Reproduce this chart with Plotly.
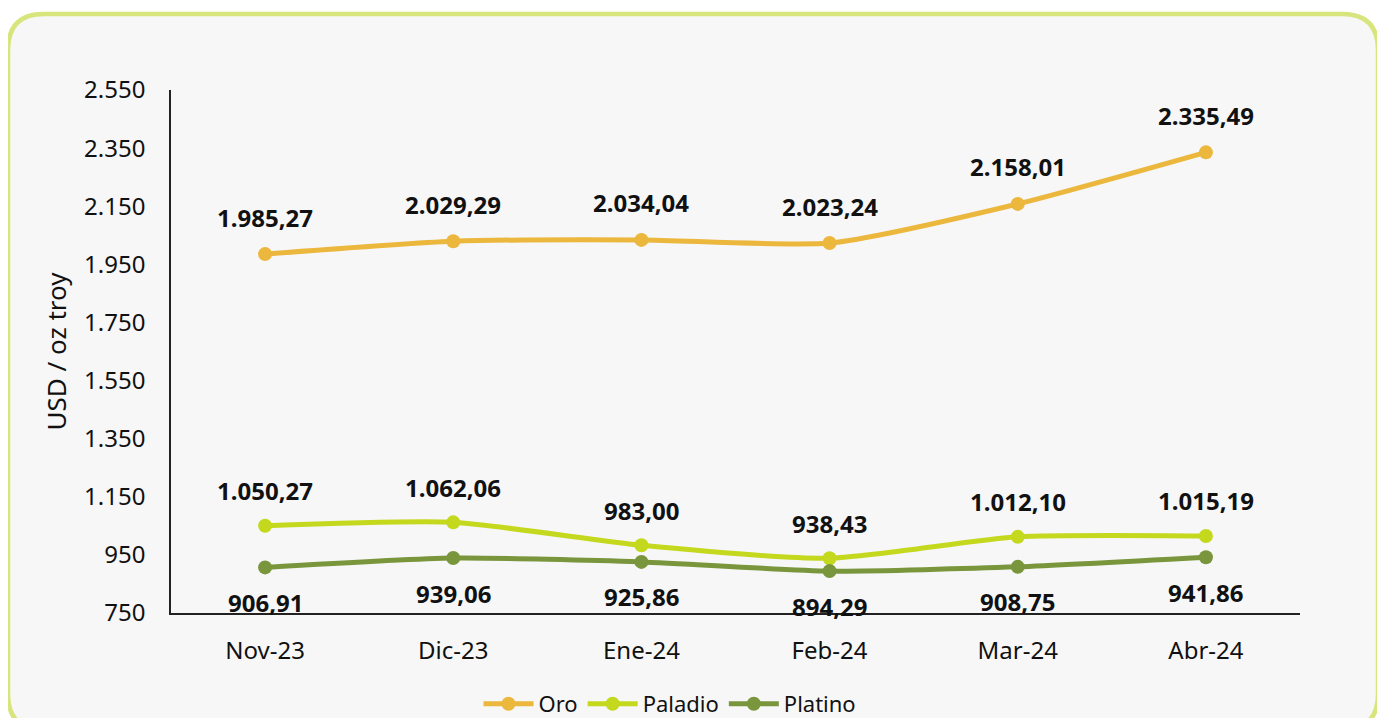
import plotly.graph_objects as go

OFF = 8  # page body margin in the browser
W, H = 1385 - OFF, 718 - OFF
L, R, T, B = 171 - OFF, 1300 - OFF, 90 - OFF, 613 - OFF  # plot area in figure pixels

categories = ["Nov-23", "Dic-23", "Ene-24", "Feb-24", "Mar-24", "Abr-24"]
oro = [1985.27, 2029.29, 2034.04, 2023.24, 2158.01, 2335.49]
paladio = [1050.27, 1062.06, 983.00, 938.43, 1012.10, 1015.19]
platino = [906.91, 939.06, 925.86, 894.29, 908.75, 941.86]
y_ticks = [750, 950, 1150, 1350, 1550, 1750, 1950, 2150, 2350, 2550]

series = [
    ("Oro", oro, "#ebb73d", 37),
    ("Paladio", paladio, "#c4d81e", 35),
    ("Platino", platino, "#7a963c", -35),
]

FONT = "Noto Sans"


def fmt(v):
    s = f"{v:,.2f}"
    return s.replace(",", "X").replace(".", ",").replace("X", ".")


def px(x):  # screen pixel -> paper
    return (x - OFF - L) / (R - L)


def py(y):
    return (B - (y - OFF)) / (B - T)


fig = go.Figure()
for name, vals, color, _ in series:
    fig.add_trace(go.Scatter(
        x=categories, y=vals, name=name, mode="lines+markers",
        line=dict(color=color, width=5, shape="spline", smoothing=0.6),
        marker=dict(color=color, size=14),
    ))

annotations = []
for name, vals, color, shift in series:
    for c, v in zip(categories, vals):
        annotations.append(dict(
            x=c, y=v, xref="x", yref="y", text=f"<b>{fmt(v)}</b>",
            showarrow=False, yshift=shift,
            font=dict(family=FONT, size=24, color="#111111"),
        ))

# rounded border frame
x0, x1 = px(8), px(1378)
y_top, y_bot = py(14), py(730)
rx, ry = 36 / (R - L), 36 / (B - T)
path = (
    f"M {x0+rx},{y_top} L {x1-rx},{y_top} Q {x1},{y_top} {x1},{y_top-ry} "
    f"L {x1},{y_bot+ry} Q {x1},{y_bot} {x1-rx},{y_bot} "
    f"L {x0+rx},{y_bot} Q {x0},{y_bot} {x0},{y_bot+ry} "
    f"L {x0},{y_top-ry} Q {x0},{y_top} {x0+rx},{y_top} Z"
)

fig.update_layout(
    width=W, height=H,
    margin=dict(l=L, r=W - R, t=T, b=H - B, autoexpand=False),
    paper_bgcolor="#ffffff",
    plot_bgcolor="rgba(0,0,0,0)",
    separators=",.",
    font=dict(family=FONT, size=22, color="#111111"),
    shapes=[dict(type="path", path=path, xref="paper", yref="paper",
                 line=dict(color="#d8e57c", width=4.5), fillcolor="#f7f7f7",
                 layer="below")],
    annotations=annotations,
    showlegend=True,
    legend=dict(orientation="h", x=px(670), xanchor="center", y=py(704),
                yanchor="middle", font=dict(family=FONT, size=22, color="#111111"),
                bgcolor="rgba(0,0,0,0)", itemwidth=50),
    xaxis=dict(
        range=[-0.5, 5.5], type="category", automargin=False,
        showline=True, linecolor="#222222", linewidth=1.5,
        showgrid=False, zeroline=False, ticks="",
        ticklabelstandoff=15, tickfont=dict(family=FONT, size=24, color="#111111"),
    ),
    yaxis=dict(
        range=[750, 2550], automargin=False,
        tickvals=y_ticks, tickformat=",d",
        showline=True, linecolor="#222222", linewidth=1.5,
        showgrid=False, zeroline=False, ticks="",
        ticklabelstandoff=19, tickfont=dict(family=FONT, size=24, color="#111111"),
        title=dict(text="USD / oz troy", standoff=10,
                   font=dict(family=FONT, size=26, color="#111111")),
    ),
)

fig.write_html("out.html")
